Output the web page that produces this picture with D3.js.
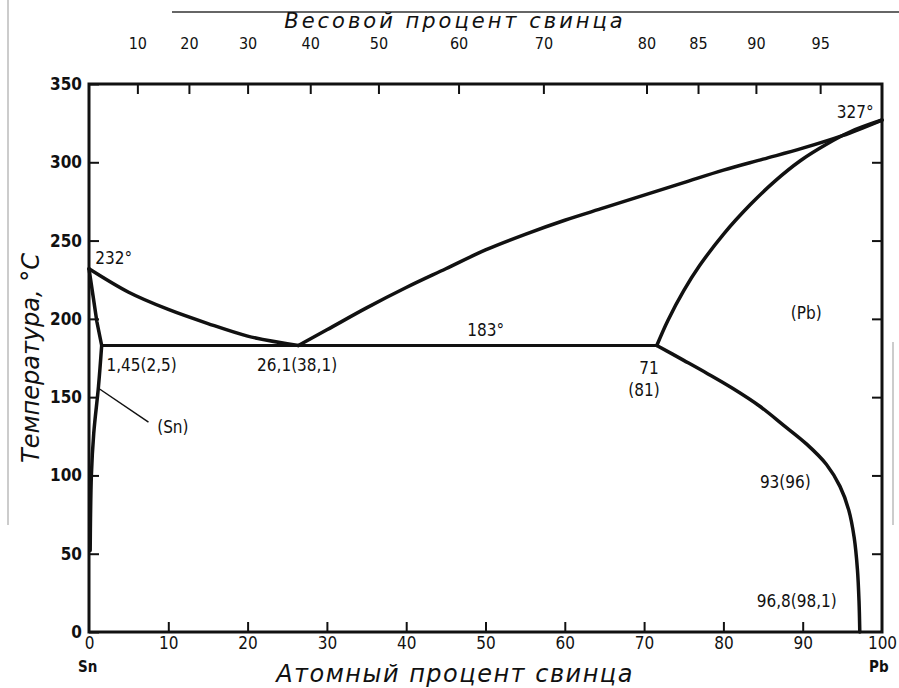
<!DOCTYPE html>
<html><head><meta charset="utf-8">
<script src="https://cdn.jsdelivr.net/npm/d3@7"></script>
<style>
body{margin:0;background:#fff;}
svg text{font-family:"Liberation Sans Narrow","DejaVu Sans Condensed","Arial Narrow",sans-serif;fill:#111;}
</style></head>
<body><svg id="c" width="899" height="688"></svg>
<script>
// atomic % Pb vs temperature (°C)
const liquidusSn = [[0,232],[5,217],[10,206],[15,197],[20,189],[26.4,183]];
const liquidusPb = [[26.4,183],[30,193],[35,207],[40,220],[45,232],[50,244],[55,254],[60,263],[65,271],[70,279],[75,287],[80,295],[85,302],[90,309],[95,317],[100,327]];
const solidusSn = [[0,232],[0.5,215],[1,198],[1.6,183]];
const solvusSn = [[1.6,183],[1.2,157],[0.6,127],[0.3,100],[0.15,52]];
const eutectic = [[1.6,183],[71.6,183]];
const solidusPb = [[71.6,183],[73,199],[75,218],[77,234],[80,254],[83.4,273],[86.5,288],[89.7,301],[93,311.5],[96,319.5],[100,327]];
const solvusPb = [[71.6,183],[75,173.5],[78,165],[81.2,155.5],[84.5,144.5],[87.6,132],[90.5,120],[93,107],[94.7,93],[95.8,78],[96.5,60],[96.9,40],[97.1,20],[97.2,0]];

const yTicks = [0,50,100,150,200,250,300,350];
const xTicks = [0,10,20,30,40,50,60,70,80,90,100];
const wtLabels = ["10","20","30","40","50","60","70","80","85","90","95"];
const wtPositions = [6.1,12.6,20.0,27.9,36.5,46.6,57.3,70.3,76.8,84.1,92.2]; // atomic %

const labels = [
  {t:"232°", x:0.8, y:235},
  {t:"1,45(2,5)", x:2.2, y:167},
  {t:"(Sn)", x:8.6, y:127},
  {t:"26,1(38,1)", x:21.2, y:167},
  {t:"183°", x:47.7, y:189},
  {t:"71", x:69.4, y:165},
  {t:"(81)", x:68.0, y:151},
  {t:"(Pb)", x:88.5, y:200},
  {t:"327°", x:94.3, y:328},
  {t:"93(96)", x:84.6, y:92},
  {t:"96,8(98,1)", x:84.2, y:16}
];
const leader = [[1.1,156],[7.5,134]];

const svg = d3.select("#c");
const x = d3.scaleLinear([0,100],[89,882]);
const y = d3.scaleLinear([0,350],[632,84]);

// scan artifacts
svg.append("line").attr("x1",8).attr("x2",8).attr("y1",0).attr("y2",525).attr("stroke","#999").attr("stroke-width",1);
svg.append("line").attr("x1",172).attr("x2",899).attr("y1",12).attr("y2",12).attr("stroke","#333").attr("stroke-width",1.5);
svg.append("line").attr("x1",893).attr("x2",893).attr("y1",342).attr("y2",525).attr("stroke","#999").attr("stroke-width",1);

const tickStyle = g => { g.select(".domain").remove(); g.selectAll(".tick line").attr("stroke","#111").attr("stroke-width",2); g.selectAll("text").attr("fill","#111"); };

svg.append("g").attr("transform","translate(89,0)")
  .call(d3.axisLeft(y).tickValues(yTicks).tickSizeInner(-10).tickSizeOuter(0).tickPadding(7))
  .call(tickStyle)
  .call(g=>g.selectAll("text").attr("font-size",17).attr("font-weight","bold"));
svg.append("g").attr("transform","translate(882,0)")
  .call(d3.axisRight(y).tickValues(yTicks.slice(1,7)).tickSizeInner(-10).tickSizeOuter(0).tickFormat(""))
  .call(tickStyle);
svg.append("g").attr("transform","translate(0,632)")
  .call(d3.axisBottom(x).tickValues(xTicks).tickSizeInner(-10).tickSizeOuter(0).tickPadding(5))
  .call(tickStyle)
  .call(g=>g.selectAll("text").attr("font-size",17))
  .call(g=>g.selectAll(".tick").filter(d=>d===0||d===100).select("line").remove());
svg.append("g").attr("transform","translate(0,84)")
  .call(d3.axisTop(x).tickValues(wtPositions).tickSizeInner(-10).tickSizeOuter(0).tickPadding(35)
    .tickFormat((d,i)=>wtLabels[i]))
  .call(tickStyle)
  .call(g=>g.selectAll("text").attr("font-size",16));

// frame
svg.append("rect").attr("x",x(0)).attr("y",y(350)).attr("width",x(100)-x(0)).attr("height",y(0)-y(350))
  .attr("fill","none").attr("stroke","#111").attr("stroke-width",3);

const lineX = d3.line().x(d=>x(d[0])).y(d=>y(d[1])).curve(d3.curveMonotoneX);
const lineC = d3.line().x(d=>x(d[0])).y(d=>y(d[1])).curve(d3.curveCatmullRom.alpha(0.5));
const lineL = d3.line().x(d=>x(d[0])).y(d=>y(d[1]));
[[liquidusSn,3.5,lineX],[liquidusPb,3.5,lineX],[solidusPb,3.5,lineC],[solvusPb,3.5,lineC],[eutectic,3,lineL],[solidusSn,3.5,lineL],[solvusSn,3.5,lineC]]
  .forEach(([d,w,f])=>svg.append("path").attr("d",f(d)).attr("fill","none").attr("stroke","#111").attr("stroke-width",w).attr("stroke-linejoin","round").attr("stroke-linecap","round"));

svg.append("path").attr("d",lineL(leader)).attr("stroke","#111").attr("stroke-width",1.5);

svg.selectAll("text.lab").data(labels).enter().append("text").attr("class","lab")
  .attr("x",d=>x(d.x)).attr("y",d=>y(d.y)).attr("font-size",17).text(d=>d.t);

svg.append("text").attr("x",78).attr("y",672).attr("font-size",15).attr("font-weight","bold").text("Sn");
svg.append("text").attr("x",869).attr("y",672).attr("font-size",15).attr("font-weight","bold").text("Pb");

const titleFont = "'DejaVu Sans',sans-serif";
svg.append("text").attr("x",455).attr("y",28).attr("text-anchor","middle").attr("font-size",21).attr("font-style","italic")
  .attr("letter-spacing",3).style("font-family",titleFont).text("Весовой процент свинца");
svg.append("text").attr("x",455).attr("y",682).attr("text-anchor","middle").attr("font-size",24).attr("font-style","italic")
  .attr("letter-spacing",1.5).style("font-family",titleFont).text("Атомный процент свинца");
svg.append("text").attr("transform","translate(39,358) rotate(-90)").attr("text-anchor","middle").attr("font-size",24).attr("font-style","italic")
  .style("font-family",titleFont).text("Температура, °C");
</script></body></html>
